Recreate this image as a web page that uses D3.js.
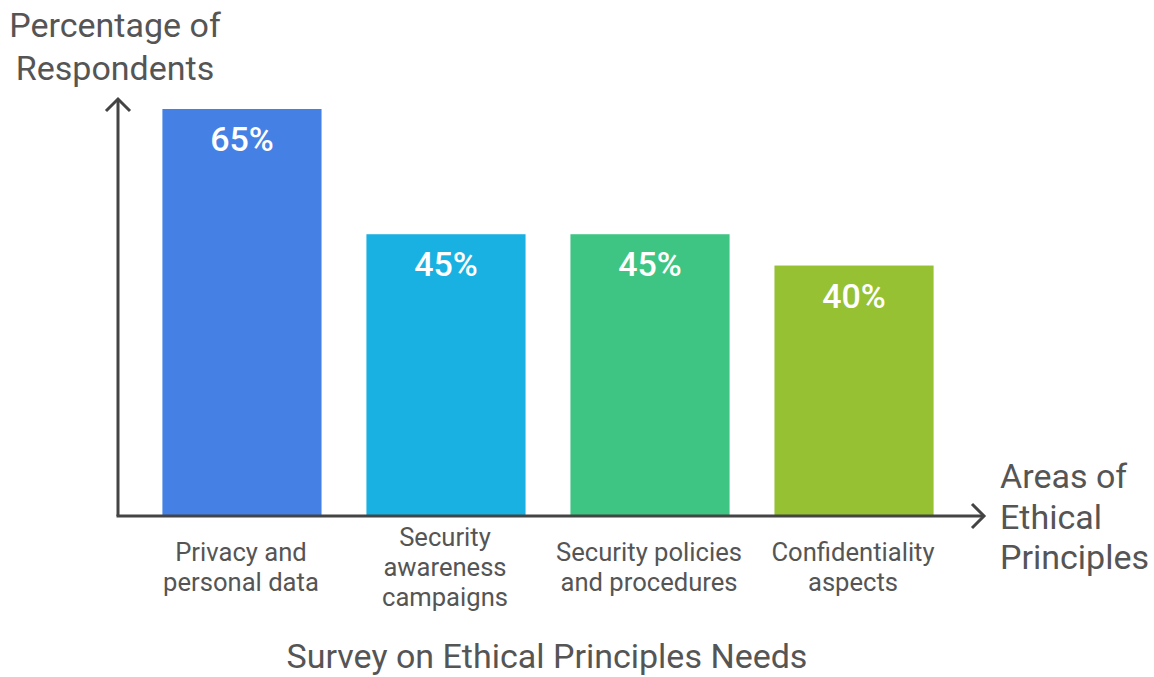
<!DOCTYPE html>
<html>
<head>
<meta charset="utf-8">
<script src="https://cdn.jsdelivr.net/npm/d3@7"></script>
<style>
  body { margin: 0; background: #fff; }
  text { font-family: Roboto, sans-serif; }
</style>
</head>
<body>
<div id="chart"></div>
<script>
// Data
const categories = [
  ["Privacy and", "personal data"],
  ["Security", "awareness", "campaigns"],
  ["Security policies", "and procedures"],
  ["Confidentiality", "aspects"],
];
const values = [65, 45, 45, 40];
const colors = ["#4581e4", "#19b1e2", "#3ec583", "#95c133"];

function draw() {
  const dimensions = { width: 1154, height: 677 };
  const axisX = 118, axisY = 516;

  const svg = d3
    .select("#chart")
    .append("svg")
    .attr("width", dimensions.width)
    .attr("height", dimensions.height);

  // Scales
  const xScale = d3
    .scaleBand()
    .domain(d3.range(values.length))
    .range([142, 954])
    .paddingInner(0.22)
    .paddingOuter(0.1);

  const yScale = d3.scaleLinear().domain([0, 65]).range([axisY, 109]);

  // Bars
  svg
    .selectAll("rect.bar")
    .data(values)
    .join("rect")
    .classed("bar", true)
    .attr("x", (d, i) => xScale(i))
    .attr("y", (d) => yScale(d))
    .attr("width", xScale.bandwidth())
    .attr("height", (d) => axisY - yScale(d))
    .attr("fill", (d, i) => colors[i]);

  // Value labels
  svg
    .selectAll("text.value")
    .data(values)
    .join("text")
    .classed("value", true)
    .attr("x", (d, i) => xScale(i) + xScale.bandwidth() / 2)
    .attr("y", (d) => yScale(d) + 42)
    .attr("text-anchor", "middle")
    .attr("fill", "#fff")
    .attr("font-size", 34)
    .attr("font-weight", 500)
    .text((d) => d + "%");

  // Axes
  const axisColor = "#444";
  svg.append("line")
    .attr("x1", axisX).attr("y1", axisY)
    .attr("x2", axisX).attr("y2", 99)
    .attr("stroke", axisColor).attr("stroke-width", 3);
  svg.append("path")
    .attr("d", `M${axisX - 12},${111} L${axisX},${99} L${axisX + 12},${111}`)
    .attr("fill", "none").attr("stroke", axisColor).attr("stroke-width", 3);

  svg.append("line")
    .attr("x1", axisX - 1.5).attr("y1", axisY)
    .attr("x2", 984).attr("y2", axisY)
    .attr("stroke", axisColor).attr("stroke-width", 3);
  svg.append("path")
    .attr("d", `M${972},${axisY - 12} L${984},${axisY} L${972},${axisY + 12}`)
    .attr("fill", "none").attr("stroke", axisColor).attr("stroke-width", 3);

  // Category labels
  const textColor = "#555";
  const catGroups = svg
    .selectAll("text.cat")
    .data(categories)
    .join("text")
    .classed("cat", true)
    .attr("text-anchor", "middle")
    .attr("fill", textColor)
    .attr("font-size", 25.6);

  catGroups.each(function (lines, i) {
    const cx = xScale(i) + xScale.bandwidth() / 2 - 1;
    const startY = lines.length === 3 ? 546 : 561;
    d3.select(this)
      .selectAll("tspan")
      .data(lines)
      .join("tspan")
      .attr("x", cx)
      .attr("y", (d, j) => startY + j * 30)
      .text((d) => d);
  });

  // Axis titles
  svg.append("text")
    .attr("text-anchor", "middle")
    .attr("fill", textColor)
    .attr("font-size", 34)
    .selectAll("tspan")
    .data(["Percentage of", "Respondents"])
    .join("tspan")
    .attr("x", 115)
    .attr("y", (d, i) => 37 + i * 43)
    .text((d) => d);

  svg.append("text")
    .attr("fill", textColor)
    .attr("font-size", 34)
    .selectAll("tspan")
    .data(["Areas of", "Ethical", "Principles"])
    .join("tspan")
    .attr("x", 1000)
    .attr("y", (d, i) => 488 + i * 40.5)
    .text((d) => d);

  // Title
  svg.append("text")
    .attr("x", 547)
    .attr("y", 668)
    .attr("text-anchor", "middle")
    .attr("fill", textColor)
    .attr("font-size", 34)
    .text("Survey on Ethical Principles Needs");
}

draw();
</script>
</body>
</html>
